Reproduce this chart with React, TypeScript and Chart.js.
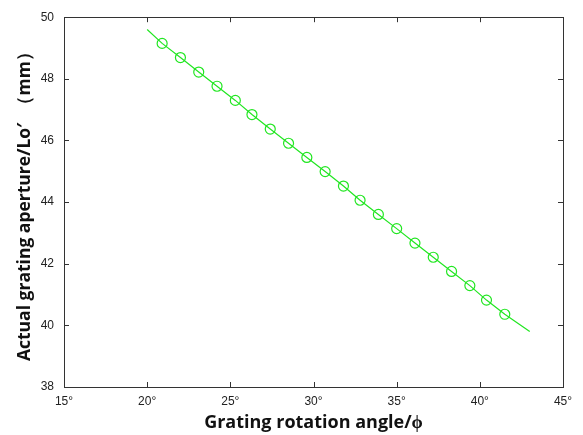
import React, { useEffect, useRef } from "react";
import { Chart, registerables } from "chart.js";

Chart.register(...registerables);

// Line endpoints (degrees, mm)
const lineStart = [20.0, 49.6];
const lineEnd = [43.0, 39.8];

// Marker data
const angles = [20.9, 22.0, 23.1, 24.2, 25.3, 26.3, 27.4, 28.5, 29.6, 30.7, 31.8, 32.8, 33.9, 35.0, 36.1, 37.2, 38.3, 39.4, 40.4, 41.5];
const apertures = [49.15, 48.69, 48.22, 47.76, 47.30, 46.84, 46.37, 45.91, 45.45, 44.99, 44.52, 44.06, 43.60, 43.14, 42.67, 42.21, 41.75, 41.29, 40.82, 40.36];

const xTicks = [15, 20, 25, 30, 35, 40, 45];
const yTicks = [38, 40, 42, 44, 46, 48, 50];

const GREEN = "#22e622";
const AXIS = "#333333";

const frame = {
  id: "frame",
  afterDraw(chart: any) {
    const { ctx, chartArea: a, scales } = chart;
    const x = scales.x, y = scales.y;
    ctx.save();
    ctx.strokeStyle = AXIS;
    ctx.lineWidth = 1;
    ctx.strokeRect(Math.round(a.left) + 0.5, Math.round(a.top) + 0.5, Math.round(a.right - a.left), Math.round(a.bottom - a.top));
    const L = 5;
    ctx.beginPath();
    xTicks.forEach((v) => {
      const px = Math.round(x.getPixelForValue(v)) + 0.5;
      ctx.moveTo(px, a.bottom); ctx.lineTo(px, a.bottom - L);
      ctx.moveTo(px, a.top); ctx.lineTo(px, a.top + L);
    });
    yTicks.forEach((v) => {
      const py = Math.round(y.getPixelForValue(v)) + 0.5;
      ctx.moveTo(a.left, py); ctx.lineTo(a.left + L, py);
      ctx.moveTo(a.right, py); ctx.lineTo(a.right - L, py);
    });
    ctx.stroke();
    ctx.restore();
  },
};

export default function App() {
  const ref = useRef<HTMLCanvasElement>(null);
  useEffect(() => {
    document.body.style.margin = "0";
    const pts = [
      { x: lineStart[0], y: lineStart[1] },
      ...angles.map((a, i) => ({ x: a, y: apertures[i] })),
      { x: lineEnd[0], y: lineEnd[1] },
    ];
    const radii = pts.map((_, i) => (i === 0 || i === pts.length - 1 ? 0 : 5));
    const chart = new Chart(ref.current!, {
      type: "scatter",
      data: {
        datasets: [
          {
            data: pts,
            showLine: true,
            borderColor: GREEN,
            borderWidth: 1.2,
            pointRadius: radii,
            pointStyle: "circle",
            pointBorderColor: GREEN,
            pointBackgroundColor: "rgba(0,0,0,0)",
            pointBorderWidth: 1.2,
            tension: 0,
          },
        ],
      },
      plugins: [frame],
      options: {
        animation: false,
        responsive: false,
        maintainAspectRatio: false,
        layout: { padding: { top: 13, right: 20, left: 0, bottom: 0 } },
        plugins: { legend: { display: false }, tooltip: { enabled: false } },
        scales: {
          x: {
            type: "linear",
            min: 15,
            max: 45,
            afterBuildTicks: (s: any) => { s.ticks = xTicks.map((v) => ({ value: v })); },
            afterFit: (s: any) => { s.height = 48; },
            grid: { display: false, drawTicks: false },
            border: { display: false },
            ticks: {
              padding: 7,
              color: "#222",
              font: { family: "Liberation Sans", size: 12 },
              callback: (v: any) => v + "°",
            },
            title: {
              display: true,
              text: "Grating rotation angle/ϕ",
              color: "#111",
              font: { family: "Open Sans", size: 18, weight: "bold" },
              padding: { top: 0, bottom: 1 },
            },
          },
          y: {
            type: "linear",
            min: 38,
            max: 50,
            afterBuildTicks: (s: any) => { s.ticks = yTicks.map((v) => ({ value: v })); },
            afterFit: (s: any) => { s.width = 64; },
            grid: { display: false, drawTicks: false },
            border: { display: false },
            ticks: {
              padding: 10,
              color: "#222",
              font: { family: "Liberation Sans", size: 12 },
            },
            title: {
              display: true,
              text: "Actual grating aperture/Lo′  （mm）",
              color: "#111",
              font: { family: "Open Sans", size: 17.5, weight: "bold" },
              padding: { top: 15, bottom: 0 },
            },
          },
        },
      },
    });
    return () => chart.destroy();
  }, []);
  return (
    <div style={{ position: "absolute", left: 0, top: 0, width: 583, height: 435, background: "#fff" }}>
      <canvas ref={ref} width={583} height={435} style={{ width: 583, height: 435 }} />
    </div>
  );
}
